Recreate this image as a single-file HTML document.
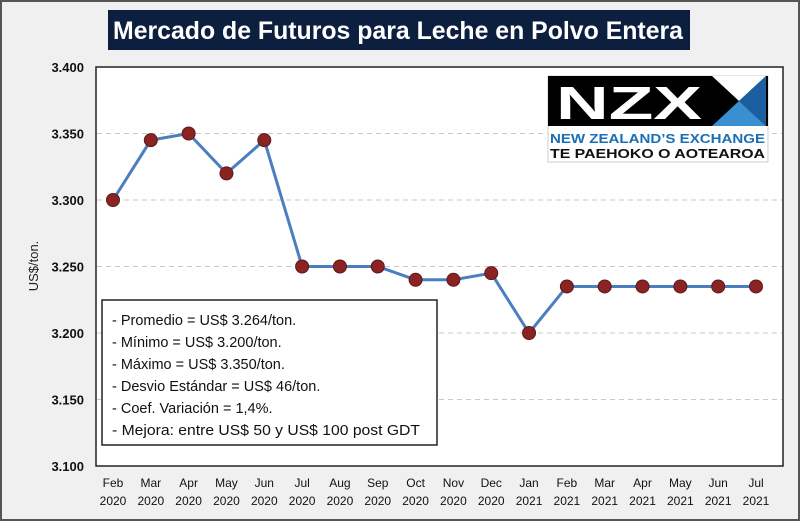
<!DOCTYPE html>
<html><head><meta charset="utf-8"><style>
body{margin:0;width:800px;height:521px;background:#f0f0f0;font-family:"Liberation Sans",sans-serif;overflow:hidden}
#frame{position:absolute;left:0;top:0;width:796px;height:517px;border:2px solid #555;background:#f0f0f0}
</style></head><body>
<div id="frame"></div>
<svg width="800" height="521" style="position:absolute;left:0;top:0">
<rect x="108" y="10" width="582" height="40" fill="#0c1f3f"/>
<text x="113" y="39" textLength="570" lengthAdjust="spacingAndGlyphs" font-size="25" font-weight="bold" fill="#fff">Mercado de Futuros para Leche en Polvo Entera</text>
<rect x="96" y="67" width="687" height="399" fill="#fff" stroke="#222" stroke-width="1.5"/>
<g id="grid"></g><g id="yt"></g><g id="xt"></g><g id="series"></g>
<text transform="translate(38,266) rotate(-90)" text-anchor="middle" font-size="13" fill="#222">US$/ton.</text>
<g>
<rect x="548" y="76" width="220" height="86" fill="#fff" stroke="#ccc"/>
<rect x="548" y="76" width="220" height="50" fill="#000"/>
<text x="556" y="119" font-size="46" font-weight="bold" fill="#fff" textLength="146" lengthAdjust="spacingAndGlyphs">NZX</text>
<polygon points="712,76 766,76 739,101" fill="#fff"/>
<polygon points="739,101 766,76 766,126" fill="#1b5fa0"/>
<polygon points="712,126 739,101 766,126" fill="#3a8fd0"/>
<text x="550" y="143" font-size="13" font-weight="bold" fill="#1b6fb5" textLength="215" lengthAdjust="spacingAndGlyphs">NEW ZEALAND’S EXCHANGE</text>
<text x="550" y="158" font-size="13" font-weight="bold" fill="#111" textLength="215" lengthAdjust="spacingAndGlyphs">TE PAEHOKO O AOTEAROA</text>
</g>
<g>
<rect x="102" y="300" width="335" height="145" fill="#fff" stroke="#222" stroke-width="1.5"/>
<g font-size="14.5" fill="#111">
<text x="112" y="325">- Promedio = US$ 3.264/ton.</text>
<text x="112" y="347">- Mínimo = US$ 3.200/ton.</text>
<text x="112" y="369">- Máximo = US$ 3.350/ton.</text>
<text x="112" y="391">- Desvio Estándar = US$ 46/ton.</text>
<text x="112" y="413">- Coef. Variación = 1,4%.</text>
<text x="112" y="435" textLength="308" lengthAdjust="spacingAndGlyphs">- Mejora: entre US$ 50 y US$ 100 post GDT</text>
</g></g>
</svg>
<script>
const months=["Feb","Mar","Apr","May","Jun","Jul","Aug","Sep","Oct","Nov","Dec","Jan","Feb","Mar","Apr","May","Jun","Jul"];
const years=["2020","2020","2020","2020","2020","2020","2020","2020","2020","2020","2020","2021","2021","2021","2021","2021","2021","2021"];
const prices=[3300,3345,3350,3320,3345,3250,3250,3250,3240,3240,3245,3200,3235,3235,3235,3235,3235,3235];
const yTicks=[3100,3150,3200,3250,3300,3350,3400];
const yTickLabels=["3.100","3.150","3.200","3.250","3.300","3.350","3.400"];
const NS="http://www.w3.org/2000/svg";
const y=v=>466-(v-3100)/300*399;
const x=i=>113+i*(643/(months.length-1));
function mk(t,a,p){const e=document.createElementNS(NS,t);for(const k in a)e.setAttribute(k,a[k]);document.getElementById(p).appendChild(e);return e;}
yTicks.forEach((v,i)=>{
 if(v>3100&&v<3400){const g=mk('line',{x1:97,x2:782,y1:y(v),y2:y(v),stroke:'#c8c8c8','stroke-dasharray':'5,4'},'grid');
 
 }
 const t=mk('text',{x:84,y:y(v)+5,'text-anchor':'end','font-size':13,'font-weight':'bold',fill:'#111'},'yt');t.textContent=yTickLabels[i];
 
 
});
months.forEach((m,i)=>{
 const t=mk('text',{x:x(i),y:487,'text-anchor':'middle','font-size':12,fill:'#111'},'xt');t.textContent=m;
 
 
 const t2=mk('text',{x:x(i),y:505,'text-anchor':'middle','font-size':12,fill:'#111'},'xt');t2.textContent=years[i];
 
 
});
const line=mk('polyline',{points:prices.map((v,i)=>x(i)+','+y(v)).join(' '),fill:'none',stroke:'#4a7ec0','stroke-width':3},'series');


prices.forEach((v,i)=>{const c=mk('circle',{cx:x(i),cy:y(v),r:6.5,fill:'#8b2323',stroke:'#5a1a1a','stroke-width':1},'series');
 
 });
</script>
</body></html>
